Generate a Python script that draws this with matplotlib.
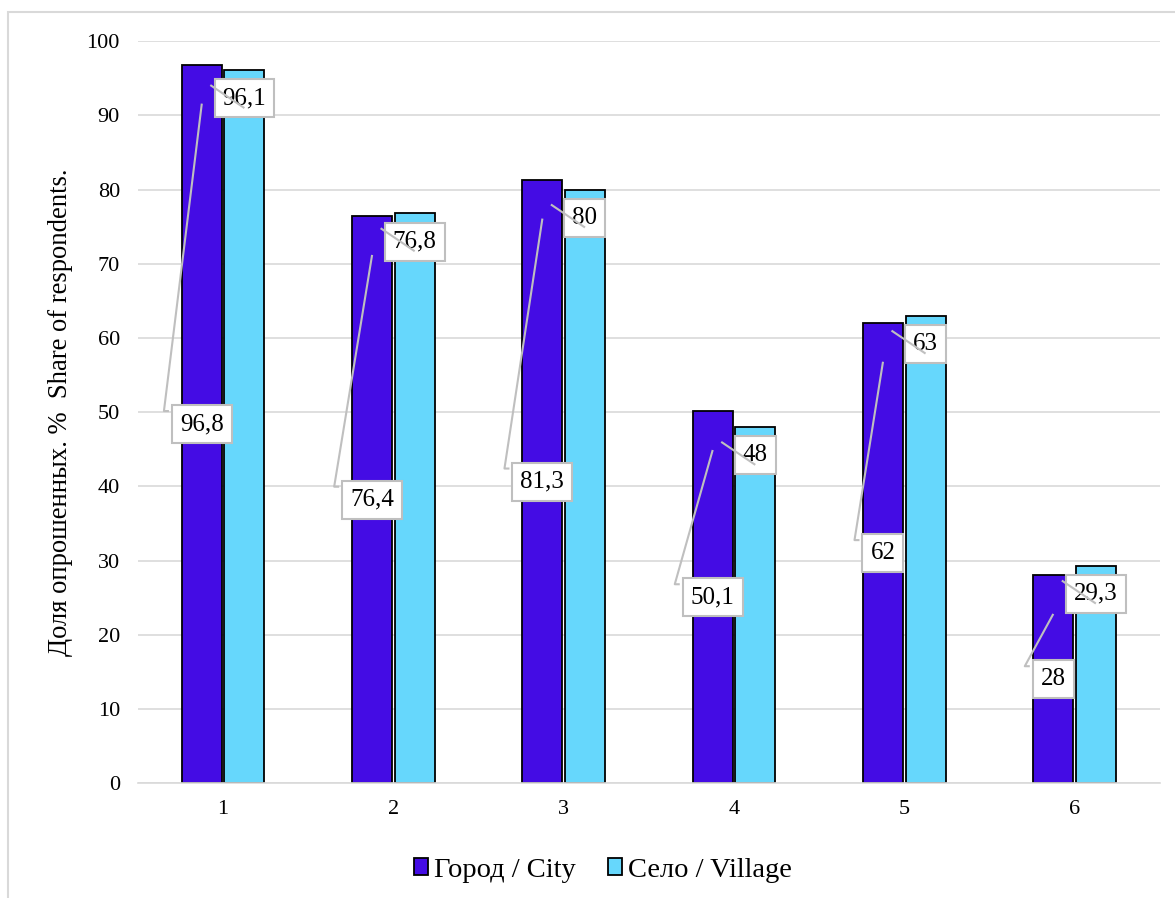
import matplotlib.pyplot as plt
import numpy as np
from matplotlib.patches import Rectangle

plt.rcParams['font.family'] = 'serif'
plt.rcParams['font.serif'] = ['Liberation Serif']

# Survey shares by question group
groups = ['1', '2', '3', '4', '5', '6']
city = [96.8, 76.4, 81.3, 50.1, 62, 28]
village = [96.1, 76.8, 80, 48, 63, 29.3]
series_names = ['Город / City', 'Село / Village']
ylabel = 'Доля опрошенных. %  Share of respondents.'

city_color = '#440CE4'
village_color = '#66D7FC'
leader_color = '#BFBFBF'
FONT = 'Liberation Serif'


def fmt(v):
    s = f'{v:g}'
    return s.replace('.', ',')


fig = plt.figure(figsize=(11.75, 8.98), dpi=100)
ax = fig.add_axes([0.1174, 0.128, 0.8696, 0.826])

x = np.arange(1, len(groups) + 1)
w = 0.235
xc = x - 0.125
xv = x + 0.125
ax.bar(xc, city, w, color=city_color, edgecolor='black', linewidth=1.3,
       label=series_names[0], zorder=2)
ax.bar(xv, village, w, color=village_color, edgecolor='black', linewidth=1.3,
       label=series_names[1], zorder=2)

ax.set_xlim(0.5, 6.5)
ax.set_ylim(0, 100)
ax.set_yticks(np.arange(0, 101, 10))
ax.set_xticks(x)
ax.set_xticklabels(groups)
ax.tick_params(axis='both', length=0, labelsize=16)
ax.tick_params(axis='y', pad=13)
ax.tick_params(axis='x', pad=12)
for lbl in ax.get_xticklabels() + ax.get_yticklabels():
    lbl.set_family(FONT)
ax.yaxis.grid(True, color='#D9D9D9', linewidth=1.2, zorder=0)
ax.set_axisbelow(True)
for side in ['left', 'right', 'top']:
    ax.spines[side].set_visible(False)
ax.spines['bottom'].set_color('#D9D9D9')
ax.spines['bottom'].set_linewidth(1.2)
ax.set_ylabel(ylabel, fontsize=19.2, family=FONT)
ax.yaxis.set_label_coords(-0.064, 0.5)

box = dict(boxstyle='square,pad=0.32', facecolor='white', edgecolor=leader_color,
           linewidth=1.5)

# city labels sit at mid-height, village labels just under the bar top
city_texts = []
for xi, v in zip(xc, city):
    t = ax.text(xi, v / 2, fmt(v), ha='center', va='center', fontsize=18,
                family=FONT, bbox=box, zorder=4)
    city_texts.append(t)
for xi, v in zip(xv, village):
    ax.text(xi, v - 3.8, fmt(v), ha='center', va='center', fontsize=18,
            family=FONT, bbox=box, zorder=4)
    ax.plot([xi - 0.2, xi], [v - 2.0, v - 5.1], color=leader_color, lw=1.5,
            zorder=5, solid_capstyle='butt')

fig.canvas.draw()
inv = ax.transData.inverted()
for t, xi, v in zip(city_texts, xc, city):
    bb = t.get_bbox_patch().get_window_extent()
    left_px, top_px = bb.x0 - 8, bb.y1 - 6
    p0 = inv.transform((left_px, top_px))
    p1 = inv.transform((left_px + 5, top_px))
    ax.plot([xi, p0[0], p1[0]], [v - 5.2, p0[1], p1[1]], color=leader_color,
            lw=1.5, zorder=3, solid_capstyle='butt')

ax.legend(loc='upper center', bbox_to_anchor=(0.455, -0.066), ncol=2, frameon=False,
          prop={'family': FONT, 'size': 20.5}, handlelength=0.5,
          handleheight=0.5, handletextpad=0.2, columnspacing=1.15)

# chart area outline
fig.patches.append(Rectangle((8 / 1175, -0.1), 1.2, 1.1 - 12 / 898,
                             transform=fig.transFigure, fill=False,
                             edgecolor='#D9D9D9', linewidth=1.5))

plt.savefig('out.png', dpi=100)
